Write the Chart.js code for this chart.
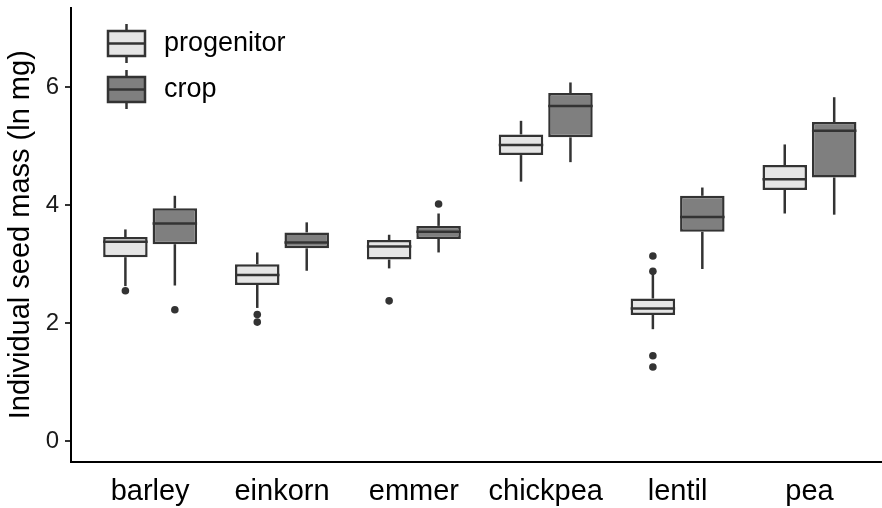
<!DOCTYPE html>
<html>
<head>
<meta charset="utf-8">
<script src="https://cdn.jsdelivr.net/npm/chart.js@4"></script>
<style>
  html, body { margin: 0; padding: 0; background: #fff; }
</style>
</head>
<body>
<canvas id="seedChart" width="882" height="508"></canvas>
<script>
const categories = ["barley", "einkorn", "emmer", "chickpea", "lentil", "pea"];
const groups = ["progenitor", "crop"];
const yTicks = [0, 2, 4, 6];

// [lower whisker, Q1, median, Q3, upper whisker]
const progenitorStats = [
  [2.63, 3.12, 3.38, 3.46, 3.59],
  [2.26, 2.65, 2.82, 3.00, 3.20],
  [2.93, 3.08, 3.30, 3.41, 3.50],
  [4.40, 4.85, 5.02, 5.20, 5.43],
  [1.90, 2.14, 2.25, 2.42, 2.84],
  [3.86, 4.26, 4.44, 4.68, 5.03]
];
const cropStats = [
  [2.64, 3.34, 3.69, 3.95, 4.16],
  [2.89, 3.27, 3.37, 3.54, 3.71],
  [3.20, 3.43, 3.55, 3.65, 3.86],
  [4.73, 5.15, 5.68, 5.90, 6.08],
  [2.92, 3.55, 3.80, 4.16, 4.30],
  [3.84, 4.47, 5.26, 5.41, 5.83]
];
const progenitorOutliers = [[2.55], [2.15, 2.02], [2.38], [], [3.14, 2.88, 1.45, 1.26], []];
const cropOutliers = [[2.23], [], [4.02], [], [], []];

const FONT = "'Liberation Sans', Arial, sans-serif";
const INK = "#333333";
const LW = 2.5;
const fills = { progenitor: "#e5e5e5", crop: "#7f7f7f" };

function boxDataset(label, stats, outliers) {
  return {
    label: label,
    data: stats.map((s, i) => ({ x: i + 1, y: [s[1], s[3]] })),
    stats: stats,
    outliers: outliers,
    backgroundColor: fills[label],
    borderColor: INK,
    borderWidth: LW,
    borderSkipped: false
  };
}

function line(ctx, x1, y1, x2, y2) {
  ctx.beginPath();
  ctx.moveTo(x1, y1);
  ctx.lineTo(x2, y2);
  ctx.stroke();
}

// legend key: a little boxplot glyph
function drawKey(ctx, x, yMid, fill, text) {
  const w = 37, h = 25;
  ctx.strokeStyle = INK;
  ctx.lineWidth = LW;
  line(ctx, x + w / 2, yMid - 19.5, x + w / 2, yMid - h / 2);
  line(ctx, x + w / 2, yMid + h / 2, x + w / 2, yMid + 19.5);
  ctx.fillStyle = fill;
  ctx.fillRect(x, yMid - h / 2, w, h);
  ctx.strokeRect(x, yMid - h / 2, w, h);
  line(ctx, x, yMid, x + w, yMid);
  ctx.fillStyle = "#000";
  ctx.font = "27px " + FONT;
  ctx.textBaseline = "middle";
  ctx.textAlign = "left";
  ctx.fillText(text, x + 56, yMid);
}

const boxPlot = {
  id: "boxPlot",
  beforeDatasetsDraw(chart) {
    const ctx = chart.ctx, y = chart.scales.y;
    ctx.save();
    ctx.strokeStyle = INK;
    ctx.lineWidth = LW;
    chart.data.datasets.forEach((ds, d) => {
      chart.getDatasetMeta(d).data.forEach((bar, i) => {
        const s = ds.stats[i];
        line(ctx, bar.x, y.getPixelForValue(s[3]), bar.x, y.getPixelForValue(s[4]));
        line(ctx, bar.x, y.getPixelForValue(s[1]), bar.x, y.getPixelForValue(s[0]));
      });
    });
    ctx.restore();
  },
  afterDatasetsDraw(chart) {
    const ctx = chart.ctx, y = chart.scales.y;
    ctx.save();
    ctx.strokeStyle = INK;
    ctx.fillStyle = INK;
    ctx.lineWidth = LW;
    chart.data.datasets.forEach((ds, d) => {
      chart.getDatasetMeta(d).data.forEach((bar, i) => {
        const m = y.getPixelForValue(ds.stats[i][2]);
        line(ctx, bar.x - bar.width / 2, m, bar.x + bar.width / 2, m);
        ds.outliers[i].forEach(v => {
          ctx.beginPath();
          ctx.arc(bar.x, y.getPixelForValue(v), 3.8, 0, Math.PI * 2);
          ctx.fill();
        });
      });
    });
    ctx.restore();
  },
  afterDraw(chart) {
    const ctx = chart.ctx;
    ctx.save();
    drawKey(ctx, 108, 43.5, fills.progenitor, groups[0]);
    drawKey(ctx, 108, 89.5, fills.crop, groups[1]);
    ctx.restore();
  }
};

// keep the plot area fixed: no extra room reserved for edge labels
function noEdgePadding(s) {
  s.paddingTop = 0;
  s.paddingBottom = 0;
  s.paddingLeft = 0;
  s.paddingRight = 0;
}

new Chart(document.getElementById("seedChart"), {
  type: "bar",
  data: {
    datasets: [
      boxDataset("progenitor", progenitorStats, progenitorOutliers),
      boxDataset("crop", cropStats, cropOutliers)
    ]
  },
  options: {
    responsive: false,
    animation: false,
    events: [],
    categoryPercentage: 0.75,
    barPercentage: 0.9,
    layout: { padding: { top: 7.5, left: 0, right: 0, bottom: 0 } },
    plugins: { legend: { display: false }, tooltip: { enabled: false } },
    scales: {
      x: {
        type: "linear",
        offset: false,
        min: 0.4,
        max: 6.55,
        afterBuildTicks: s => { s.ticks = categories.map((c, i) => ({ value: i + 1 })); },
        afterFit: s => { s.height = 46; noEdgePadding(s); },
        ticks: {
          callback: v => categories[v - 1],
          font: { family: FONT, size: 29 },
          color: "#000",
          padding: 5,
          autoSkip: false,
          maxRotation: 0,
          minRotation: 0
        },
        grid: { display: false, offset: false },
        border: { display: true, color: "#000", width: 2 }
      },
      y: {
        type: "linear",
        min: -0.35,
        max: 7.35,
        afterBuildTicks: s => { s.ticks = yTicks.map(v => ({ value: v })); },
        afterFit: s => { s.width = 71; noEdgePadding(s); },
        ticks: {
          font: { family: FONT, size: 24 },
          color: "#1a1a1a",
          padding: 6
        },
        grid: { drawOnChartArea: false, drawTicks: true, tickLength: 6, color: INK, lineWidth: 2 },
        border: { display: true, color: "#000", width: 2 },
        title: {
          display: true,
          text: "Individual seed mass (ln mg)",
          font: { family: FONT, size: 29 },
          color: "#000",
          padding: { top: 4, bottom: 0 }
        }
      }
    }
  },
  plugins: [boxPlot]
});
</script>
</body>
</html>
